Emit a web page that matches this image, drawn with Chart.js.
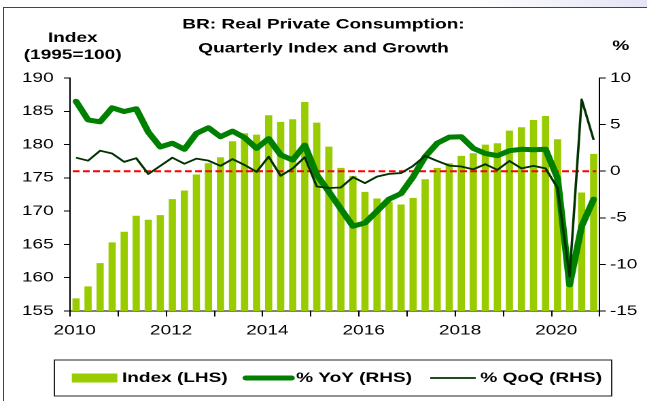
<!DOCTYPE html>
<html>
<head>
<meta charset="utf-8">
<script src="https://cdn.jsdelivr.net/npm/chart.js@4.4.1/dist/chart.umd.min.js"></script>
<style>
html, body { margin: 0; padding: 0; background: #fff; overflow: hidden; }
#band { position: absolute; left: 0; top: 0; width: 647px; height: 7px; background: linear-gradient(to right, rgba(228,228,244,0) 470px, #e4e4f4 647px); }
#frame { position: absolute; left: 3px; top: 7px; width: 700px; height: 500px; border-left: 1px solid #444; border-top: 1px solid #444; }
/* the original chart is stretched sideways, so draw narrow and stretch */
#wrap { position: absolute; left: 0; top: 0; width: 476px; height: 401px; transform: scaleX(1.35924); transform-origin: 0 0; }
</style>
</head>
<body>
<div id="band"></div>
<div id="frame"></div>
<div id="wrap"><canvas id="canvas"></canvas></div>
<script>
var titleLines = ['BR: Real Private Consumption:', 'Quarterly Index and Growth'];
var leftTitle = ['Index', '(1995=100)'];
var rightTitle = '%';
var xTickYears = [2010, 2012, 2014, 2016, 2018, 2020];

var quarters = [
  '2010Q1', '2010Q2', '2010Q3', '2010Q4',
  '2011Q1', '2011Q2', '2011Q3', '2011Q4',
  '2012Q1', '2012Q2', '2012Q3', '2012Q4',
  '2013Q1', '2013Q2', '2013Q3', '2013Q4',
  '2014Q1', '2014Q2', '2014Q3', '2014Q4',
  '2015Q1', '2015Q2', '2015Q3', '2015Q4',
  '2016Q1', '2016Q2', '2016Q3', '2016Q4',
  '2017Q1', '2017Q2', '2017Q3', '2017Q4',
  '2018Q1', '2018Q2', '2018Q3', '2018Q4',
  '2019Q1', '2019Q2', '2019Q3', '2019Q4',
  '2020Q1', '2020Q2', '2020Q3', '2020Q4'
];

// index (LHS)
var indexLhs = [
  156.9, 158.7, 162.2, 165.3,
  166.9, 169.3, 168.7, 169.4,
  171.8, 173.1, 175.5, 177.2,
  178.1, 180.5, 181.7, 181.5,
  184.4, 183.4, 183.8, 186.4,
  183.3, 179.7, 176.5, 175.3,
  172.9, 171.9, 171.4, 171.0,
  172.0, 174.8, 176.5, 177.2,
  178.3, 178.7, 180.0, 180.2,
  182.1, 182.6, 183.7, 184.3,
  180.8, 160.3, 172.8, 178.6
];

// % yoy (RHS)
var yoy = [
  7.5, 5.5, 5.3, 6.8,
  6.4, 6.7, 4.2, 2.6,
  3.0, 2.35, 4.06, 4.66,
  3.7, 4.3, 3.6, 2.45,
  3.5, 1.74, 1.2, 2.8,
  -0.4, -2.2, -4.06, -5.9,
  -5.55, -4.3, -3.0, -2.4,
  -0.6, 1.56, 3.0, 3.65,
  3.7, 2.45, 1.9, 1.67,
  2.2, 2.35, 2.3, 2.35,
  -0.75, -12.2, -5.9, -3.0
];

// % qoq (RHS)
var qoq = [
  1.45, 1.13, 2.2, 1.9,
  1.0, 1.4, -0.3, 0.57,
  1.45, 0.8, 1.35, 1.13,
  0.57, 1.3, 0.67, -0.07,
  1.56, -0.5, 0.3, 1.5,
  -1.64, -1.8, -1.75, -0.64,
  -1.28, -0.58, -0.29, -0.2,
  0.57, 1.64, 1.1, 0.6,
  0.5, 0.2, 0.75, 0.14,
  1.1, 0.3, 0.57, 0.3,
  -1.8, -11.3, 7.7, 3.35
];

function qx(q) {
  var yr = parseInt(q.slice(0, 4));
  var n = parseInt(q.slice(5));
  return yr + (n - 1) / 4 + 0.125;
}

function pts(vals) {
  return quarters.map(function (q, i) { return { x: qx(q), y: vals[i] }; });
}

var FONT = "'Liberation Sans', Arial, sans-serif";
Chart.defaults.font.family = FONT;
Chart.defaults.color = '#000';

var extras = {
  id: 'extras',
  afterDatasetDraw: function (chart, args) {
    // zero line sits on top of the bars, under the lines
    if (args.index !== 0) return;
    var ctx = chart.ctx, a = chart.chartArea;
    var y0 = chart.scales.y1.getPixelForValue(0);
    ctx.save();
    ctx.strokeStyle = '#ff0000';
    ctx.lineWidth = 2;
    ctx.setLineDash([5, 2.5]);
    ctx.beginPath();
    ctx.moveTo(a.left + 2, y0);
    ctx.lineTo(a.right - 2.5, y0);
    ctx.stroke();
    ctx.restore();
  },
  afterDraw: function (chart) {
    var ctx = chart.ctx, a = chart.chartArea;
    ctx.save();
    ctx.fillStyle = '#000';
    ctx.font = 'bold 14px ' + FONT;
    ctx.textAlign = 'center';
    ctx.textBaseline = 'middle';
    ctx.fillText(leftTitle[0], a.left + 2, 38);
    ctx.fillText(leftTitle[1], a.left + 2, 55);
    ctx.fillText(rightTitle, a.right + 15.5, 46);

    // legend, drawn by hand so it stays on one row
    var ds = chart.data.datasets;
    var sw = 33.5, gap = 3.4, pad = 13.4;
    var ly = a.bottom + 67;
    ctx.textAlign = 'left';
    var widths = ds.map(function (d) { return ctx.measureText(d.label).width; });
    var total = pad * (ds.length - 1);
    widths.forEach(function (w) { total += sw + gap + w; });
    var x = (a.left + a.right) / 2 + 1.5 - total / 2;
    ds.forEach(function (d, i) {
      if (d.type === 'bar') {
        ctx.fillStyle = d.backgroundColor;
        ctx.fillRect(x, ly - 4.5, sw, 9);
      } else {
        ctx.strokeStyle = d.borderColor;
        ctx.lineWidth = d.borderWidth;
        ctx.lineCap = d.borderCapStyle || 'butt';
        ctx.beginPath();
        ctx.moveTo(x, ly);
        ctx.lineTo(x + sw, ly);
        ctx.stroke();
      }
      ctx.fillStyle = '#000';
      ctx.fillText(d.label, x + sw + gap, ly);
      x += sw + gap + widths[i] + pad;
    });

    // legend frame
    ctx.strokeStyle = '#222';
    ctx.lineWidth = 1;
    ctx.lineCap = 'butt';
    ctx.strokeRect(a.left - 11.5, ly - 18, a.right - a.left + 20.3, 36);
    ctx.restore();
  }
};

var ctx = document.getElementById('canvas');
var myChart = new Chart(ctx, {
  type: 'bar',
  data: {
    datasets: [{
      type: 'bar',
      label: 'Index (LHS)',
      data: pts(indexLhs),
      yAxisID: 'y',
      backgroundColor: '#99cc00',
      borderWidth: 0,
      barPercentage: 0.6,
      categoryPercentage: 1,
      order: 2
    }, {
      type: 'line',
      label: '% YoY (RHS)',
      data: pts(yoy),
      yAxisID: 'y1',
      borderColor: '#008000',
      backgroundColor: '#008000',
      borderWidth: 5,
      pointRadius: 0,
      tension: 0,
      borderJoinStyle: 'round',
      borderCapStyle: 'round',
      order: 1
    }, {
      type: 'line',
      label: '% QoQ (RHS)',
      data: pts(qoq),
      yAxisID: 'y1',
      borderColor: '#003300',
      backgroundColor: '#003300',
      borderWidth: 1.8,
      pointRadius: 0,
      tension: 0,
      borderJoinStyle: 'round',
      order: 0
    }]
  },
  options: {
    responsive: true,
    maintainAspectRatio: false,
    animation: false,
    devicePixelRatio: 2,
    layout: { padding: 0 },
    plugins: {
      title: {
        display: true,
        text: titleLines,
        color: '#000',
        font: { size: 14, weight: 'bold', lineHeight: '24px' },
        padding: { top: 12.5, bottom: 17.5 }
      },
      legend: { display: false },
      tooltip: { enabled: false }
    },
    scales: {
      x: {
        type: 'linear',
        min: 2010,
        max: 2021,
        offset: false,
        grid: { offset: false, drawOnChartArea: false, tickLength: 5.5, color: '#000' },
        border: { color: '#000' },
        ticks: {
          stepSize: 1,
          autoSkip: false,
          maxRotation: 0,
          minRotation: 0,
          padding: 5.5,
          labelOffset: 3.5,
          color: '#000',
          font: { size: 14 },
          callback: function (v) { return xTickYears.indexOf(v) >= 0 ? String(v) : ''; }
        },
        afterFit: function (s) { s.height = 90; }
      },
      y: {
        position: 'left',
        min: 155,
        max: 190,
        grid: { drawOnChartArea: false, tickLength: 4.5, color: '#000' },
        border: { color: '#000' },
        ticks: { stepSize: 5, autoSkip: false, padding: 7.5, color: '#000', font: { size: 14 } },
        afterFit: function (s) { s.width = 51.5; }
      },
      y1: {
        position: 'right',
        min: -15,
        max: 10,
        grid: { drawOnChartArea: false, tickLength: 4.5, color: '#000' },
        border: { color: '#000' },
        ticks: { stepSize: 5, autoSkip: false, padding: 3, color: '#000', font: { size: 14 } },
        afterFit: function (s) { s.width = 34.8; }
      }
    }
  },
  plugins: [extras]
});
</script>
</body>
</html>
